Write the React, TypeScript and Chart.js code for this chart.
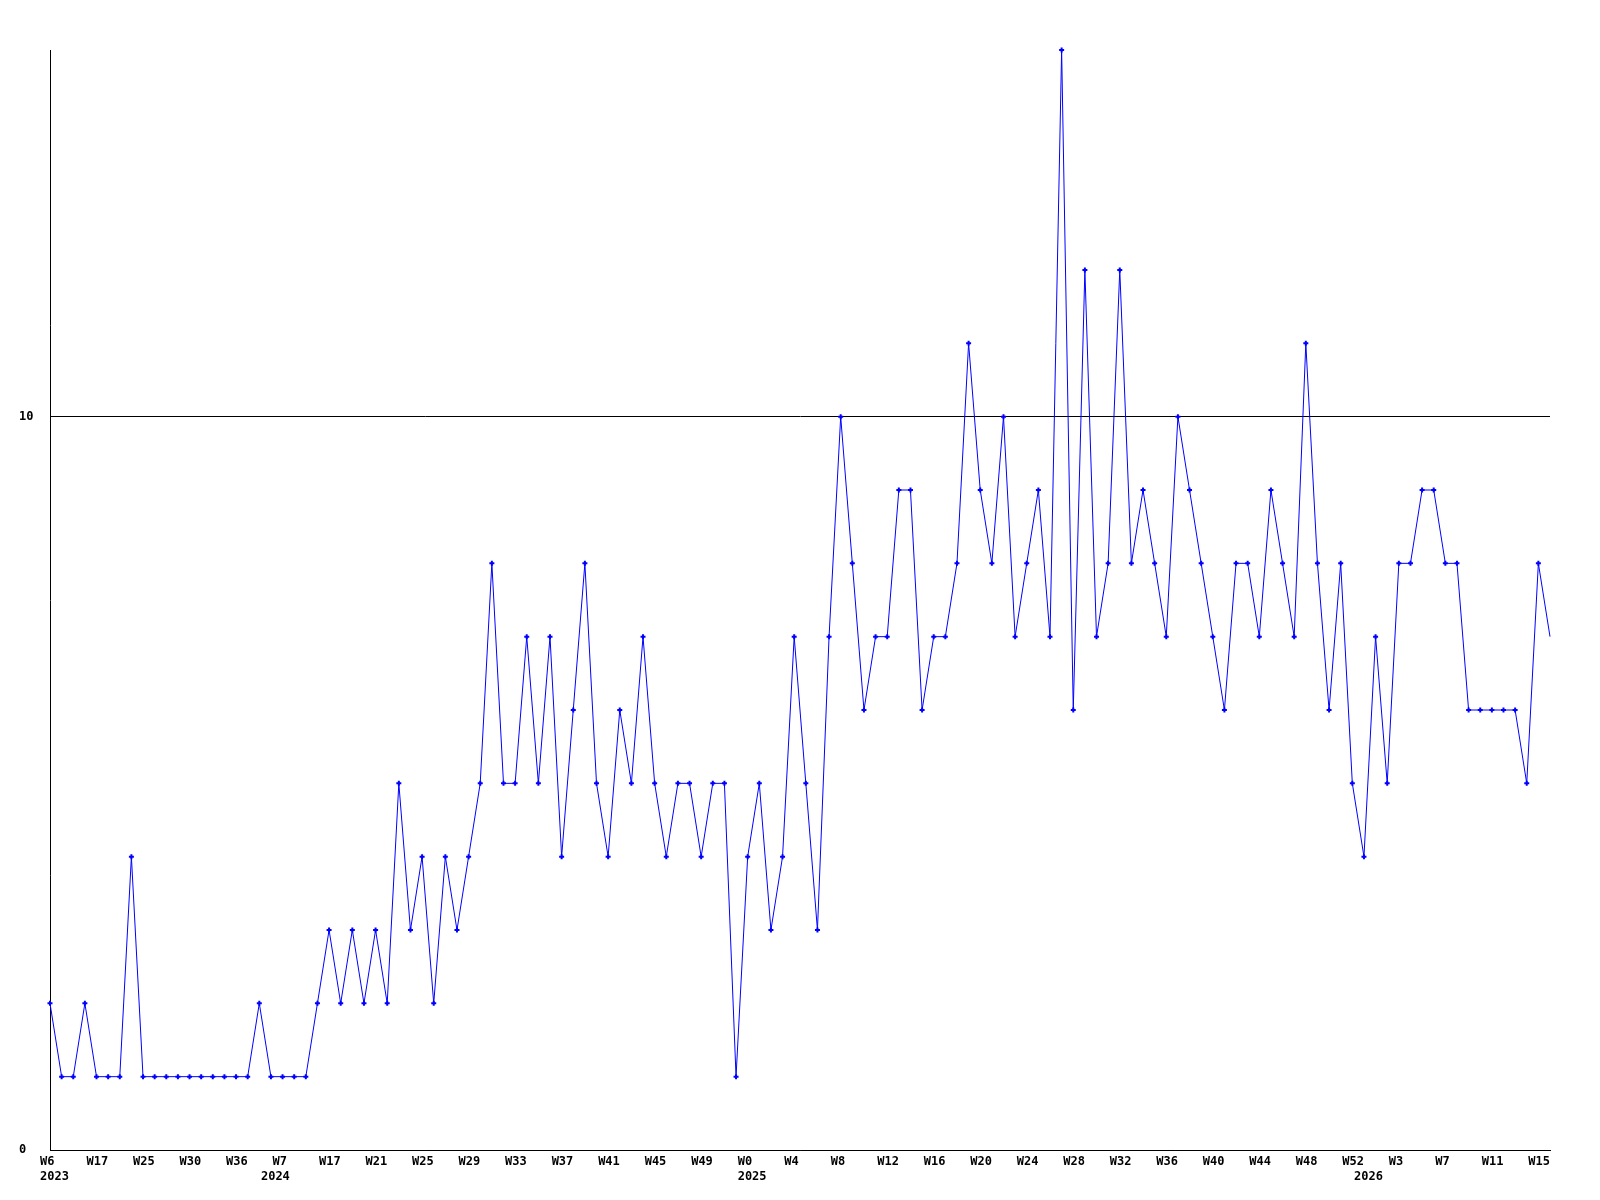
import React, { useEffect, useRef } from "react";
import { Chart, registerables } from "chart.js";

Chart.register(...registerables);

// Weekly counts, one per plotted point (left to right)
const values: number[] = [
  2, 1, 1, 2, 1, 1, 1, 4,
  1, 1, 1, 1, 1, 1, 1, 1, 1, 1,
  2, 1, 1, 1, 1,
  2, 3, 2, 3, 2, 3, 2, 5, 3, 4, 2, 4, 3, 4, 5, 8, 5, 5, 7, 5, 7, 4, 6, 8, 5, 4, 6, 5, 7, 5, 4, 5, 5, 4, 5, 5, 1,
  4, 5, 3, 4, 7, 5, 3, 7, 10, 8, 6, 7, 7, 9, 9, 6, 7, 7, 8, 11, 9, 8, 10, 7, 8, 9, 7, 15, 6, 12, 7, 8, 12, 8, 9, 8, 7, 10,
  9, 8, 7, 6, 8, 8, 7, 9, 8, 7, 11, 8, 6, 8, 5,
  4, 7, 5, 8, 8, 9, 9, 8, 8, 6, 6, 6, 6, 6, 5, 8, 7,
];

// Week tick labels, shown on every 4th point
const weekTicks: string[] = [
  "W6", "W17", "W25", "W30", "W36",
  "W7", "W17", "W21", "W25", "W29", "W33", "W37", "W41", "W45", "W49",
  "W0", "W4", "W8", "W12", "W16", "W20", "W24", "W28", "W32", "W36", "W40", "W44", "W48", "W52",
  "W3", "W7", "W11", "W15",
];
const weekTickEvery = 4;

// Year labels and the point index where each year begins
const yearTicks: string[] = ["2023", "2024", "2025", "2026"];
const yearStartIndex: number[] = [0, 19, 60, 113];

// Y-axis tick values
const yTicks: number[] = [0, 10];
const yMax = 15;

const FONT = { family: "'DejaVu Sans Mono', 'Liberation Mono', monospace", size: 12, weight: "bold" as const };

export default function App() {
  const ref = useRef<HTMLCanvasElement | null>(null);

  useEffect(() => {
    if (!ref.current) return;
    const labels = values.map((_, i) => {
      const wk = i % weekTickEvery === 0 ? weekTicks[i / weekTickEvery] ?? "" : "";
      const yi = yearStartIndex.indexOf(i);
      const yr = yi >= 0 ? yearTicks[yi] : "";
      return [wk, yr];
    });
    const last = values.length - 1;
    const chart = new Chart(ref.current, {
      type: "line",
      data: {
        labels,
        datasets: [
          {
            data: values,
            borderColor: "#0000ff",
            backgroundColor: "#0000ff",
            borderWidth: 1,
            tension: 0,
            fill: false,
            pointStyle: "cross",
            pointRadius: (ctx: any) => (ctx.dataIndex === last ? 0 : 2.5),
            pointBorderWidth: 2,
            pointBorderColor: "#0000ff",
            pointBackgroundColor: "#0000ff",
            clip: false as any,
          },
        ],
      },
      options: {
        animation: false,
        responsive: false,
        devicePixelRatio: 1,
        layout: { padding: { left: 19, right: 50, top: 50, bottom: 0 } },
        plugins: {
          legend: { display: false },
          tooltip: { enabled: false },
          title: { display: false },
        },
        scales: {
          x: {
            type: "category",
            offset: false,
            grid: { display: false, drawTicks: false },
            border: { display: true, color: "#000000", width: 1 },
            ticks: {
              autoSkip: false,
              maxRotation: 0,
              minRotation: 0,
              align: "start",
              labelOffset: -10,
              padding: 5,
              color: "#000000",
              font: FONT,
            },
            afterFit: (s: any) => {
              s.height = 50;
            },
          },
          y: {
            type: "linear",
            min: 0,
            max: yMax,
            grid: { display: true, color: "#000000", lineWidth: 1, drawTicks: false },
            border: { display: true, color: "#000000", width: 1 },
            afterBuildTicks: (s: any) => {
              s.ticks = yTicks.map((v) => ({ value: v }));
            },
            ticks: {
              crossAlign: "far",
              padding: 17,
              color: "#000000",
              font: FONT,
            },
            afterFit: (s: any) => {
              s.width = 31;
            },
          },
        },
      } as any,
    });
    return () => chart.destroy();
  }, []);

  return (
    <div style={{ position: "absolute", left: 0, top: 0, width: 1600, height: 1200, background: "#ffffff" }}>
      <canvas ref={ref} width={1600} height={1200} style={{ width: 1600, height: 1200, display: "block" }} />
    </div>
  );
}
